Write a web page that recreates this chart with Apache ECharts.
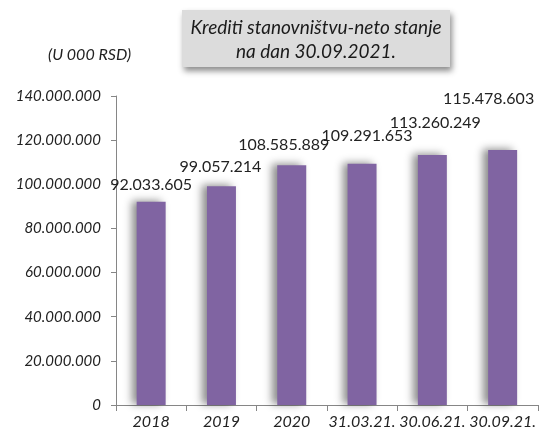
<!DOCTYPE html>
<html>
<head>
<meta charset="utf-8">
<script src="https://cdn.jsdelivr.net/npm/echarts@6/dist/echarts.min.js"></script>
<style>
  html, body { margin: 0; padding: 0; background: #fff; }
  #chart { width: 539px; height: 437px; }
</style>
</head>
<body>
<div id="chart"></div>
<script>
// podaci
const categories = ["2018", "2019", "2020", "31.03.21.", "30.06.21.", "30.09.21."];
const loanValues = [92033605, 99057214, 108585889, 109291653, 113260249, 115478603];
const yTicks = [0, 20000000, 40000000, 60000000, 80000000, 100000000, 120000000, 140000000];

// pomeranje labela (kao u Excelu, rucno pomerane)
const labelShift = [[0, -4], [-1, -7], [-8, -7], [5, -15], [3, -19], [-14, -38]];

const font = "Lato, 'Open Sans', sans-serif";

function dots(v) {
  return String(v).replace(/\B(?=(\d{3})+(?!\d))/g, ".");
}

const chart = echarts.init(document.getElementById("chart"));

const option = {
  animation: false,
  graphic: [
    {
      type: "rect",
      x: 182,
      y: 10,
      shape: { width: 268, height: 57 },
      style: {
        fill: "#dcdcdc",
        shadowBlur: 6,
        shadowOffsetX: 2,
        shadowOffsetY: 4,
        shadowColor: "rgba(0,0,0,0.45)",
      },
    },
    {
      type: "text",
      x: 316,
      y: 16,
      style: {
        text: "Krediti stanovništvu-neto stanje\nna dan 30.09.2021.",
        align: "center",
        font: "italic 19px " + font,
        lineHeight: 24,
        fill: "#1a1a1a",
      },
    },
    {
      type: "text",
      x: 48,
      y: 47,
      style: {
        text: "(U 000 RSD)",
        font: "italic 16px " + font,
        fill: "#222",
      },
    },
  ],
  grid: {
    left: 116,
    right: 0,
    top: 96,
    bottom: 32,
    containLabel: false,
  },
  xAxis: {
    type: "category",
    data: categories,
    axisLine: { show: true, lineStyle: { color: "#868686", width: 1 } },
    axisTick: { show: true, length: 6, lineStyle: { color: "#868686" } },
    axisLabel: {
      interval: 0,
      margin: 9,
      fontFamily: font,
      fontStyle: "italic",
      fontSize: 16,
      color: "#222",
    },
  },
  yAxis: {
    type: "value",
    min: yTicks[0],
    max: yTicks[yTicks.length - 1],
    interval: yTicks[1] - yTicks[0],
    axisLine: { show: true, lineStyle: { color: "#868686", width: 1 } },
    axisTick: { show: true, length: 5, lineStyle: { color: "#868686" } },
    splitLine: { show: false },
    axisLabel: {
      margin: 15,
      fontFamily: font,
      fontStyle: "italic",
      fontSize: 15,
      color: "#222",
      formatter: (v) => dots(v),
    },
  },
  series: [
    {
      type: "bar",
      barWidth: 29,
      data: loanValues.map((v, i) => ({
        value: v,
        label: { offset: labelShift[i] },
      })),
      itemStyle: {
        color: "#8064a2",
        shadowBlur: 8,
        shadowOffsetX: -5,
        shadowOffsetY: -1,
        shadowColor: "rgba(0,0,0,0.45)",
      },
      label: {
        show: true,
        position: "top",
        fontFamily: font,
        fontSize: 16,
        color: "#222",
        formatter: (p) => dots(p.value),
      },
    },
  ],
};

chart.setOption(option);
</script>
</body>
</html>
